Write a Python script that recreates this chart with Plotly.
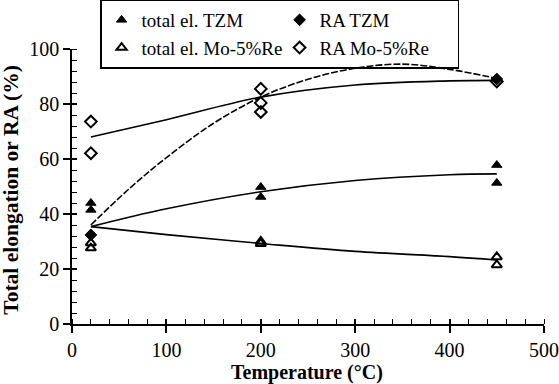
import plotly.graph_objects as go

# Measured data
temp_tzm_el = [20, 20, 200, 200, 450, 450]
el_tzm = [44, 41.5, 49.8, 46.2, 57.8, 51.3]
temp_more_el = [20, 20, 200, 200, 450, 450]
el_more = [29.5, 27.6, 30, 29.2, 24.4, 21.5]
temp_ra_tzm = [20, 450]
ra_tzm = [32.4, 89.1]
temp_ra_more = [20, 20, 200, 200, 200, 450]
ra_more = [73.6, 62.1, 85.5, 80.4, 77.1, 88.2]

# Trend curves
trend_x = [20, 100, 200, 300, 400, 450]
trend_el_tzm = [35.4, 41.9, 48.1, 52.2, 54.3, 54.6]
trend_el_more = [35.4, 32.5, 29.3, 26.4, 24.5, 23.3]
trend_ra_more = [68.0, 74.3, 82.5, 86.9, 88.4, 88.6]
trend_ra_tzm_x = [20, 60, 100, 150, 200, 250, 300, 350, 400, 450]
trend_ra_tzm = [36, 49, 60.5, 73, 82.5, 89, 93, 94.5, 92.6, 89.3]

x_ticks = [0, 100, 200, 300, 400, 500]
y_ticks = [0, 20, 40, 60, 80, 100]
x_title = "Temperature (°C)"
y_title = "Total elongation or RA (%)"

FONT = "Liberation Serif"
fig = go.Figure()

line = dict(color="black", width=1.6)
fig.add_trace(go.Scatter(x=trend_x, y=trend_el_tzm, mode="lines", line=dict(**line, shape="spline"), showlegend=False))
fig.add_trace(go.Scatter(x=trend_x, y=trend_el_more, mode="lines", line=dict(**line, shape="spline"), showlegend=False))
fig.add_trace(go.Scatter(x=trend_x, y=trend_ra_more, mode="lines", line=dict(**line, shape="spline"), showlegend=False))
fig.add_trace(go.Scatter(x=trend_ra_tzm_x, y=trend_ra_tzm, mode="lines",
                         line=dict(color="black", width=1.6, shape="spline", dash="7px,2px"), showlegend=False))

fig.add_trace(go.Scatter(x=temp_tzm_el, y=el_tzm, mode="markers", name="total el. TZM",
                         marker=dict(symbol="triangle-up", size=9, color="black", line=dict(color="black", width=1))))
fig.add_trace(go.Scatter(x=temp_ra_tzm, y=ra_tzm, mode="markers", name="RA TZM",
                         marker=dict(symbol="diamond", size=9, color="black", line=dict(color="black", width=1))))
fig.add_trace(go.Scatter(x=temp_more_el, y=el_more, mode="markers", name="total el. Mo-5%Re",
                         marker=dict(symbol="triangle-up-open", size=9, color="black", line=dict(color="black", width=2))))
fig.add_trace(go.Scatter(x=temp_ra_more, y=ra_more, mode="markers", name="RA Mo-5%Re",
                         marker=dict(symbol="diamond-open", size=9, color="black", line=dict(color="black", width=2))))

axis_common = dict(showgrid=False, zeroline=False, showline=True, linecolor="black", linewidth=1.5,
                   ticks="outside", ticklen=7, tickwidth=1.5, tickcolor="black",
                   tickfont=dict(family=FONT, size=20, color="black"))

fig.update_layout(
    width=559, height=384,
    margin=dict(l=72, r=15, t=49, b=60, autoexpand=False),
    paper_bgcolor="white", plot_bgcolor="white",
    font=dict(family=FONT, color="black"),
    xaxis=dict(range=[0, 500], tickvals=x_ticks, **axis_common,
               minor=dict(dtick=20, ticks="inside", ticklen=5, tickwidth=1.2, tickcolor="black")),
    yaxis=dict(range=[0, 100], tickvals=y_ticks, **axis_common,
               minor=dict(dtick=4, ticks="inside", ticklen=5, tickwidth=1.2, tickcolor="black")),
    xaxis2=dict(overlaying="x", range=[0, 500], tickvals=x_ticks, ticks="inside", ticklen=5, tickwidth=1.5,
                tickcolor="black", showticklabels=False, showgrid=False, zeroline=False, showline=False,
                anchor="y"),
    yaxis2=dict(overlaying="y", range=[0, 100], tickvals=y_ticks, ticks="inside", ticklen=5, tickwidth=1.5,
                tickcolor="black", showticklabels=False, showgrid=False, zeroline=False, showline=False,
                anchor="x"),
    legend=dict(orientation="h", x=0.0595, y=1.18, xanchor="left", yanchor="top",
                bordercolor="black", borderwidth=1.5, bgcolor="rgba(255,255,255,0)",
                entrywidth=133, entrywidthmode="pixels", traceorder="normal",
                font=dict(family=FONT, size=19), itemwidth=30, tracegroupgap=0),
    annotations=[
        dict(text="<b>" + x_title + "</b>", xref="paper", yref="paper", x=0.498, y=-0.175,
             xanchor="center", yanchor="middle", showarrow=False, font=dict(family=FONT, size=20)),
        dict(text="<b>" + y_title + "</b>", xref="paper", yref="paper", x=-0.13, y=0.487,
             xanchor="center", yanchor="middle", textangle=-90, showarrow=False,
             font=dict(family=FONT, size=21.5)),
    ],
)
fig.add_trace(go.Scatter(x=[None], y=[None], xaxis="x2", yaxis="y2", showlegend=False))

fig.write_html("out.html")
